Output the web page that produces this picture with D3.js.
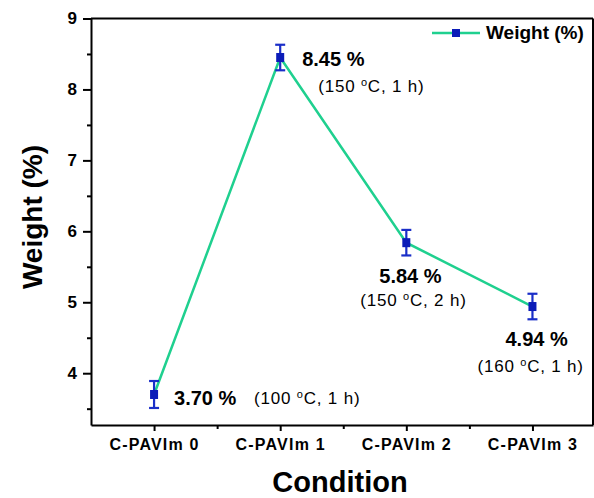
<!DOCTYPE html>
<html>
<head>
<meta charset="utf-8">
<script src="https://cdn.jsdelivr.net/npm/d3@7"></script>
<style>
  body { margin: 0; background: #fff; }
  svg { display: block; font-family: "Liberation Sans", Arial, sans-serif; }
</style>
</head>
<body>
<div id="weight-chart"></div>
<script>
// samples and measured weight (%) with error
const conditions = ["C-PAVIm 0", "C-PAVIm 1", "C-PAVIm 2", "C-PAVIm 3"];
const weights = [3.70, 8.45, 5.84, 4.94];
const errors = [0.19, 0.18, 0.18, 0.18];
const treatTemps = ["100", "150", "150", "160"];
const treatHours = ["1", "1", "2", "1"];
const yTicks = [4, 5, 6, 7, 8, 9];

// where each annotation sits relative to its point: [value dx, dy, condition dx, dy]
const labelOffsets = [
  [20, 11, 100, 10],
  [22, 8, 38, 34],
  [-27, 40, -46, 63],
  [-27, 39, -55, 65]
];

const W = 594, H = 498;
const plot = {left: 91, right: 593, top: 18.5, bottom: 425};

const svg = d3.select("#weight-chart")
  .append("svg")
  .attr("width", W)
  .attr("height", H);

const x = d3.scaleLinear().domain([-0.5, 3.48]).range([plot.left, plot.right]);
const y = d3.scaleLinear().domain([3.27, 9]).range([plot.bottom, plot.top]);

const green = "#1fd08f", blue = "#0b1cb8", errBlue = "#1a2ec8";

// frame lines (top + right)
svg.append("line")
  .attr("x1", plot.left).attr("x2", plot.right).attr("y1", plot.top).attr("y2", plot.top)
  .attr("stroke", "#000").attr("stroke-width", 2);
svg.append("line")
  .attr("x1", plot.right).attr("x2", plot.right).attr("y1", plot.top).attr("y2", plot.bottom)
  .attr("stroke", "#000").attr("stroke-width", 2);

// y axis, major + minor ticks
const yAxis = svg.append("g")
  .attr("transform", `translate(${plot.left},0)`)
  .call(d3.axisLeft(y).tickValues(yTicks).tickFormat(d3.format("d")).tickSize(8).tickPadding(6).tickSizeOuter(0));
yAxis.select(".domain").attr("stroke-width", 2);
yAxis.selectAll(".tick line").attr("stroke-width", 2);
yAxis.selectAll("text")
  .style("font-size", "17px").style("font-weight", "bold")
  .style("font-family", "'Liberation Sans', Arial, sans-serif").attr("fill", "#000");
svg.append("g")
  .attr("transform", `translate(${plot.left},0)`)
  .call(d3.axisLeft(y).tickValues([3.5, 4.5, 5.5, 6.5, 7.5, 8.5]).tickSize(4).tickFormat("").tickSizeOuter(0))
  .call(g => g.select(".domain").remove())
  .selectAll("line").attr("stroke-width", 2);

// x axis
const xAxis = svg.append("g")
  .attr("transform", `translate(0,${plot.bottom})`)
  .call(d3.axisBottom(x).tickValues([0, 1, 2, 3]).tickFormat(i => conditions[i]).tickSize(6).tickPadding(8).tickSizeOuter(0));
xAxis.select(".domain").attr("stroke-width", 2);
xAxis.selectAll(".tick line").attr("stroke-width", 2);
xAxis.selectAll("text")
  .style("font-size", "16px").style("font-weight", "bold").style("letter-spacing", "1.2px")
  .style("font-family", "'Liberation Sans', Arial, sans-serif").attr("fill", "#000");
svg.append("g")
  .attr("transform", `translate(0,${plot.bottom})`)
  .call(d3.axisBottom(x).tickValues([0.5, 1.5, 2.5]).tickSize(4).tickFormat("").tickSizeOuter(0))
  .call(g => g.select(".domain").remove())
  .selectAll("line").attr("stroke-width", 2);

// axis titles
svg.append("text")
  .attr("x", (plot.left + plot.right) / 2 - 2).attr("y", 492)
  .attr("text-anchor", "middle")
  .style("font-size", "29px").style("font-weight", "bold")
  .text("Condition");
svg.append("text")
  .attr("transform", `translate(42,217) rotate(-90)`)
  .attr("text-anchor", "middle")
  .style("font-size", "28px").style("font-weight", "bold")
  .text("Weight (%)");

// connecting line
const pts = weights.map((w, i) => [i, w]);
svg.append("path")
  .datum(pts)
  .attr("fill", "none")
  .attr("stroke", green)
  .attr("stroke-width", 2.5)
  .attr("d", d3.line().x(d => x(d[0])).y(d => y(d[1])));

// error bars
const eb = svg.append("g").attr("stroke", errBlue).attr("stroke-width", 2.2);
pts.forEach(([i, w]) => {
  const cx = x(i), y1 = y(w + errors[i]), y2 = y(w - errors[i]);
  eb.append("line").attr("x1", cx).attr("x2", cx).attr("y1", y1).attr("y2", y2);
  eb.append("line").attr("x1", cx - 5).attr("x2", cx + 5).attr("y1", y1).attr("y2", y1);
  eb.append("line").attr("x1", cx - 5).attr("x2", cx + 5).attr("y1", y2).attr("y2", y2);
});

// square markers
svg.append("g")
  .selectAll("rect")
  .data(pts)
  .enter().append("rect")
  .attr("x", d => x(d[0]) - 4)
  .attr("y", d => y(d[1]) - 4.5)
  .attr("width", 8)
  .attr("height", 9)
  .attr("fill", blue);

// value + treatment annotations
pts.forEach(([i, w]) => {
  const cx = x(i), cy = y(w), o = labelOffsets[i];
  svg.append("text")
    .attr("x", cx + o[0]).attr("y", cy + o[1])
    .style("font-size", "20px").style("font-weight", "bold")
    .text(d3.format(".2f")(w) + " %");
  const t = svg.append("text")
    .attr("x", cx + o[2]).attr("y", cy + o[3])
    .style("font-size", "17px").style("letter-spacing", "0.8px");
  t.append("tspan").text("(" + treatTemps[i] + " ");
  t.append("tspan").attr("dy", -6).style("font-size", "11px").text("o");
  t.append("tspan").attr("dy", 6).text("C, " + treatHours[i] + " h)");
});

// legend
const lg = svg.append("g");
lg.append("line")
  .attr("x1", 432).attr("x2", 480).attr("y1", 33).attr("y2", 33)
  .attr("stroke", green).attr("stroke-width", 2.5);
lg.append("rect")
  .attr("x", 452).attr("y", 29).attr("width", 8).attr("height", 8)
  .attr("fill", blue);
lg.append("text")
  .attr("x", 486).attr("y", 39)
  .style("font-size", "19px").style("font-weight", "bold")
  .text("Weight (%)");
</script>
</body>
</html>
